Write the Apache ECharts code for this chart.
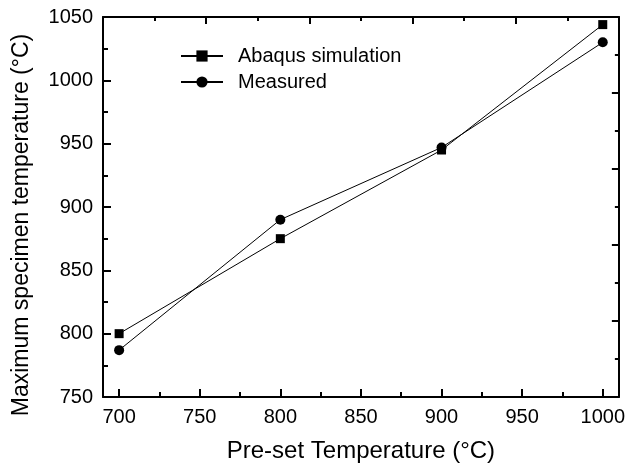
<!DOCTYPE html>
<html>
<head>
<meta charset="utf-8">
<script src="https://cdn.jsdelivr.net/npm/echarts@6/dist/echarts.min.js"></script>
<style>html,body{margin:0;padding:0;background:#fff}#c{width:628px;height:468px}</style>
</head>
<body>
<div id="c"></div>
<script>
const presetTemps = [700, 800, 900, 1000];
const abaqusValues = [800, 875, 945, 1044];
const measuredValues = [787, 890, 947, 1030];
const xMajorTicks = [700, 750, 800, 850, 900, 950, 1000];
const xMinorTicks = [725, 775, 825, 875, 925, 975];
const seriesNames = ['Abaqus simulation', 'Measured'];
const xTitle = 'Pre-set Temperature (°C)';
const yTitle = 'Maximum specimen temperature (°C)';

const FONT = '"Liberation Sans", Arial, Helvetica, sans-serif';
const chart = echarts.init(document.getElementById('c'), null, {renderer: 'canvas'});
const axisLine = {show: true, onZero: false, lineStyle: {color: '#000', width: 2}};
const plain = v => String(v);

chart.setOption({
  animation: false,
  backgroundColor: '#fff',
  grid: {left: 103, right: 8, top: 17, bottom: 71, containLabel: false},
  legend: {
    orient: 'vertical',
    left: 175, top: 41,
    itemWidth: 42, itemHeight: 14, itemGap: 6,
    data: seriesNames,
    textStyle: {fontFamily: FONT, fontSize: 20, color: '#000', padding: [0, 0, 0, 10]}
  },
  xAxis: [
    {
      type: 'value', position: 'bottom', min: 690, max: 1010,
      axisLine: axisLine,
      axisTick: {show: true, inside: true, length: 8, customValues: xMajorTicks, lineStyle: {color: '#000', width: 2}},
      axisLabel: {show: true, customValues: xMajorTicks, formatter: plain, margin: 10, fontFamily: FONT, fontSize: 20, color: '#000'},
      splitLine: {show: false},
      name: xTitle, nameLocation: 'middle', nameGap: 42,
      nameTextStyle: {fontFamily: FONT, fontSize: 24, color: '#000'}
    },
    {
      type: 'value', position: 'bottom', min: 690, max: 1010,
      axisLine: {show: false, onZero: false},
      axisTick: {show: true, inside: true, length: 5, customValues: xMinorTicks, lineStyle: {color: '#000', width: 2}},
      axisLabel: {show: false},
      splitLine: {show: false}
    },
    {
      type: 'value', position: 'top', min: 0, max: 10, interval: 2,
      axisLine: axisLine,
      axisTick: {show: true, inside: true, length: 7, lineStyle: {color: '#000', width: 2}},
      minorTick: {show: true, splitNumber: 2, length: 4, lineStyle: {color: '#000', width: 2}},
      axisLabel: {show: false},
      splitLine: {show: false}
    }
  ],
  yAxis: [
    {
      type: 'value', position: 'left', min: 750, max: 1050, interval: 50,
      axisLine: axisLine,
      axisTick: {show: true, inside: true, length: 8, lineStyle: {color: '#000', width: 2}},
      minorTick: {show: true, splitNumber: 2, length: 5, lineStyle: {color: '#000', width: 2}},
      axisLabel: {margin: 10, formatter: plain, fontFamily: FONT, fontSize: 20, color: '#000'},
      splitLine: {show: false}
    },
    {
      type: 'value', position: 'right', min: 0, max: 10, interval: 2,
      axisLine: axisLine,
      axisTick: {show: true, inside: true, length: 7, lineStyle: {color: '#000', width: 2}},
      minorTick: {show: true, splitNumber: 2, length: 4, lineStyle: {color: '#000', width: 2}},
      axisLabel: {show: false},
      splitLine: {show: false}
    }
  ],
  graphic: [{
    type: 'text', x: 22, y: 225, rotation: Math.PI / 2,
    style: {text: yTitle, font: '23px ' + FONT, fill: '#000', align: 'center', verticalAlign: 'middle'}
  }],
  series: [
    {
      name: seriesNames[0], type: 'line', xAxisIndex: 0, yAxisIndex: 0,
      data: presetTemps.map((x, i) => [x, abaqusValues[i]]),
      symbol: 'rect', symbolSize: 9, showSymbol: true,
      lineStyle: {color: '#000', width: 1}, itemStyle: {color: '#000'}
    },
    {
      name: seriesNames[1], type: 'line', xAxisIndex: 0, yAxisIndex: 0,
      data: presetTemps.map((x, i) => [x, measuredValues[i]]),
      symbol: 'circle', symbolSize: 10, showSymbol: true,
      lineStyle: {color: '#000', width: 1}, itemStyle: {color: '#000'}
    }
  ]
});
</script>
</body>
</html>
